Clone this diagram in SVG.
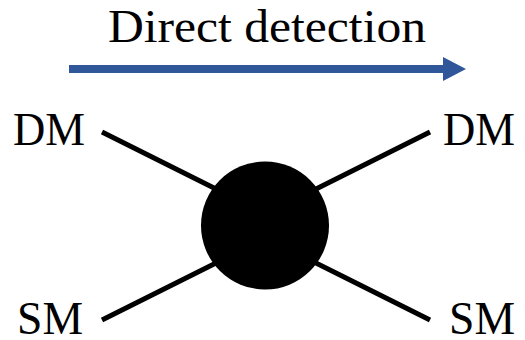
<svg xmlns="http://www.w3.org/2000/svg" width="525" height="340" viewBox="0 0 525 340">
<style>
text{font-family:"Liberation Serif","DejaVu Serif",serif;font-size:46px;fill:#000}
.leg{stroke:#000;stroke-width:5;stroke-linecap:butt}
</style>
<rect width="525" height="340" fill="#fff"/>
<g id="title">
<text x="108" y="42" textLength="318" lengthAdjust="spacingAndGlyphs">Direct detection</text>
</g>
<g id="arrow">
<rect x="69" y="65" width="376" height="8" fill="#30579a"/>
<polygon points="443,57 466,69 443,81" fill="#30579a"/>
</g>
<g id="connectors">
<line class="leg" x1="102" y1="132" x2="240" y2="201"/>
<line class="leg" x1="430" y1="132" x2="290" y2="202"/>
<line class="leg" x1="102" y1="320" x2="240" y2="251"/>
<line class="leg" x1="430" y1="320" x2="290" y2="250"/>
</g>
<g id="vertex">
<circle cx="265" cy="225.5" r="64" fill="#000"/>
</g>
<g id="dm-in"><text x="13" y="145" textLength="72" lengthAdjust="spacingAndGlyphs">DM</text></g>
<g id="dm-out"><text x="443" y="145" textLength="72" lengthAdjust="spacingAndGlyphs">DM</text></g>
<g id="sm-in"><text x="17" y="334" textLength="66" lengthAdjust="spacingAndGlyphs">SM</text></g>
<g id="sm-out"><text x="449" y="334" textLength="66" lengthAdjust="spacingAndGlyphs">SM</text></g>
</svg>
